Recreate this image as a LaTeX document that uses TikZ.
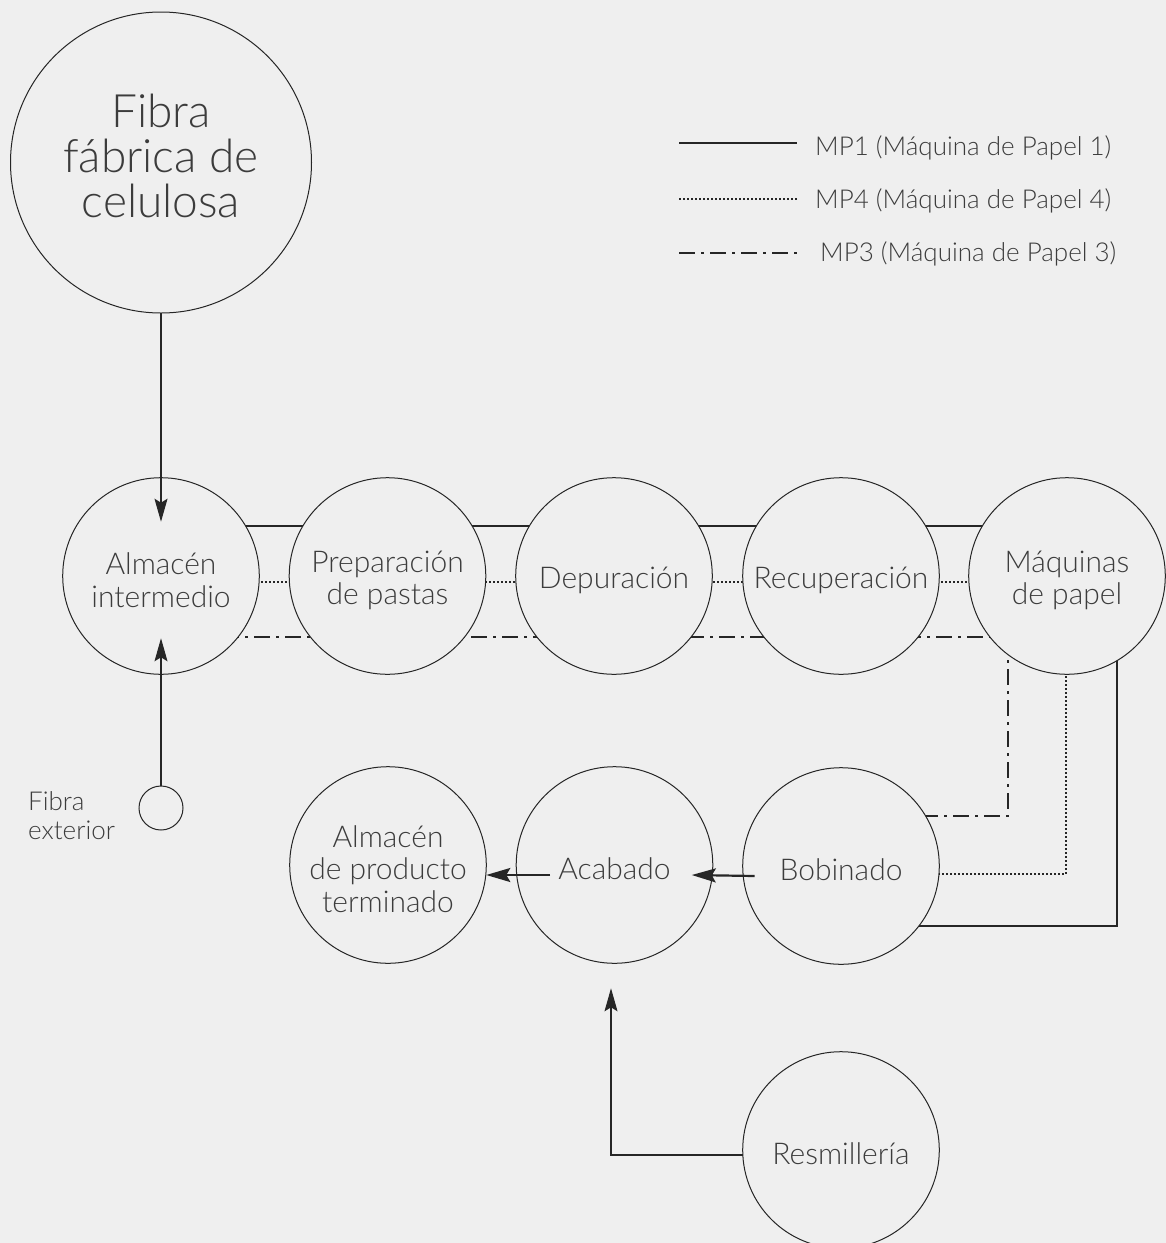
\documentclass[tikz,border=0pt]{standalone}
\usepackage{fontspec}
\setmainfont{Lato}[UprightFont={* Light}]
\usetikzlibrary{arrows.meta,calc}
\pgfdeclarelayer{bottom}
\pgfdeclarelayer{lines}
\pgfsetlayers{bottom,lines,main}
\definecolor{bg}{HTML}{EFEFEF}
\definecolor{ink}{HTML}{262626}
\definecolor{txt}{HTML}{3C3C3C}
\newcommand{\mystrut}{\rule{0pt}{30pt}}
\begin{document}
\begin{tikzpicture}[x=1pt,y=-1pt,
  every node/.style={text=txt},
  proc/.style={circle,draw=ink,line width=1pt,fill=bg,minimum size=196.6pt,inner sep=0pt,outer sep=0pt,align=center,font=\fontsize{30}{32.5}\selectfont},
  mpone/.style={draw=ink,line width=2pt,line join=miter},
  mpfour/.style={draw=ink,line width=1.7pt,dash pattern=on 1.7pt off 2.3pt},
  mpthree/.style={draw=ink,line width=2.2pt,dash pattern=on 16pt off 6pt on 3pt off 6pt},
  flow/.style={draw=ink,line width=1.2pt,-{Stealth[length=23pt,width=13pt,inset=4pt]}},
  flowthick/.style={draw=ink,line width=2.2pt,-{Stealth[length=24pt,width=14pt,inset=4pt]}},
  lbl/.style={inner sep=0pt,font=\fontsize{26}{29}\selectfont}]
\begin{pgfonlayer}{bottom}
\fill[bg] (0,0) rectangle (1166,1243);
\end{pgfonlayer}
\useasboundingbox (0,0) rectangle (1166,1243);

% source
\node[proc,minimum size=301pt,font=\fontsize{46}{45}\selectfont,text depth=13pt] (fib) at (161,162.5) {Fibra\\fábrica de\\celulosa};

% main row
\node[proc] (alm) at (161,576) {\mystrut Almacén\\intermedio};
\node[proc] (pre) at (387.5,576) {\mystrut Preparación\\de pastas};
\node[proc] (dep) at (614,576) {\mystrut Depuración};
\node[proc] (rec) at (841,576) {\mystrut Recuperación};
\node[proc] (maq) at (1067,576) {\mystrut Máquinas\\de papel};

% bottom row
\node[proc] (apt) at (388,865) {\mystrut Almacén\\de producto\\terminado};
\node[proc] (aca) at (614.5,865) {\mystrut Acabado};
\node[proc] (bob) at (841,866) {\mystrut Bobinado};
\node[proc] (res) at (841,1150) {\mystrut Resmillería};

% external fibre
\node[circle,draw=ink,line width=1pt,minimum size=44pt,inner sep=0pt,outer sep=0pt] (ext) at (161,808) {};
\node[lbl,anchor=west,align=left] (extl) at (28,816) {Fibra\\exterior};

% connectors (behind the filled circles)
\begin{pgfonlayer}{lines}
\path[mpone] ($(alm)+(0,-50)$) -- ($(maq)+(0,-50)$);
\path[mpfour] ($(alm)+(0,5.7)$) -- ($(maq)+(0,5.7)$);
\path[mpthree] ($(alm)+(0,61)$) -- ($(maq)+(0,61)$);
\path[mpthree] ($(maq)+(-59.3,0)$) |- ($(bob)+(0,-50)$);
\path[mpfour] ($(maq)+(-1.3,0)$) |- ($(bob)+(0,8)$);
\path[mpone] ($(maq)+(50,0)$) |- ($(bob)+(0,60)$);
\end{pgfonlayer}

% arrows
\draw[flow] (fib.south) -- ($(alm.north)+(0,44)$);
\draw[flow] (ext.north) -- ($(alm.south)+(0,-36)$);
\draw[flowthick] ($(bob.west)+(12,10)$) -- ($(aca.east)+(-21,10)$);
\draw[flowthick] ($(aca.west)+(34,10)$) -- ($(apt.east)+(0,10)$);
\draw[flow] ($(res.west)+(0,5)$) -| ($(aca.south)+(-3.5,25)$);

% legend
\coordinate (l1a) at (679,142.7); \coordinate (l1b) at (797,142.7);
\coordinate (l2a) at (679,199); \coordinate (l2b) at (797,199);
\coordinate (l3a) at (679,252.7); \coordinate (l3b) at (797,252.7);
\draw[mpone] (l1a) -- (l1b);
\draw[mpfour] (l2a) -- (l2b);
\draw[mpthree] (l3a) -- (l3b);
\node[lbl,anchor=base west] (t1) at (815,155) {MP1 (Máquina de Papel 1)};
\node[lbl,anchor=base west] (t2) at (815,208) {MP4 (Máquina de Papel 4)};
\node[lbl,anchor=base west] (t3) at (820,261.7) {MP3 (Máquina de Papel 3)};
\end{tikzpicture}
\end{document}
